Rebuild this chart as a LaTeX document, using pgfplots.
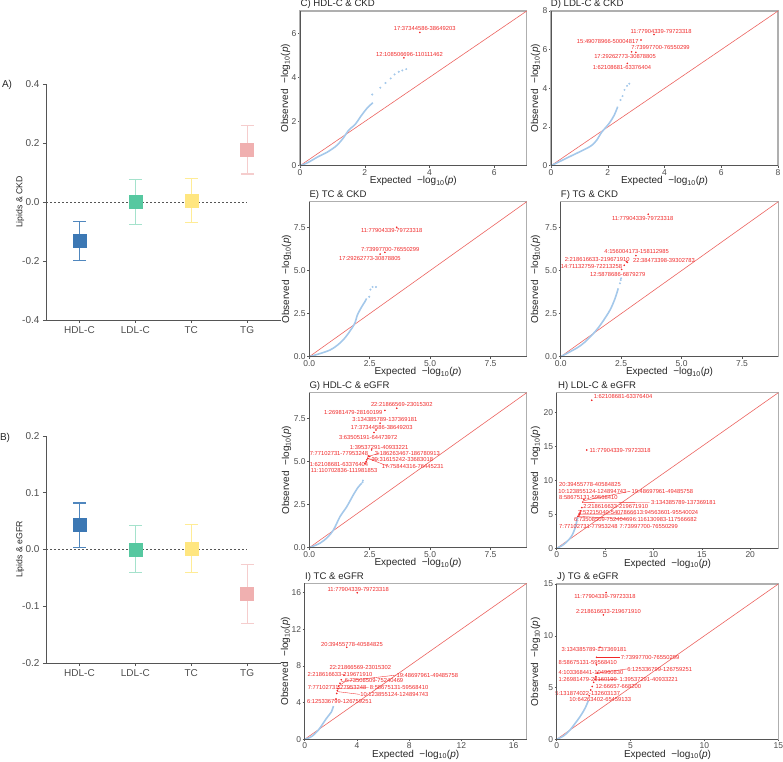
\documentclass[border=0pt]{standalone}
\usepackage{pgfplots}
\pgfplotsset{compat=1.18}
\usepackage{fontspec}
\setmainfont{Liberation Sans}
\definecolor{qqblue}{RGB}{164,200,234}
\definecolor{qqred}{RGB}{236,100,96}
\definecolor{lblred}{RGB}{240,40,40}
\definecolor{framegray}{RGB}{175,175,175}
\definecolor{axdark}{RGB}{85,85,85}
\definecolor{tickgray}{RGB}{77,77,77}
\definecolor{hdlfill}{RGB}{60,120,180}
\definecolor{hdlerr}{RGB}{80,135,190}
\definecolor{ldlfill}{RGB}{86,200,160}
\definecolor{ldlerr}{RGB}{165,226,204}
\definecolor{tcfill}{RGB}{255,230,128}
\definecolor{tcerr}{RGB}{255,236,150}
\definecolor{tgfill}{RGB}{240,176,176}
\definecolor{tgerr}{RGB}{245,205,205}
\tikzset{lbl/.style={text=lblred, font=\fontsize{5.8}{6.5}\selectfont, inner sep=0pt},
  seg/.style={lblred, line width=0.35pt}}
\pgfplotsset{
 qq/.style={scale only axis, anchor=south west, xmin=0, ymin=0,
   axis line style={draw=framegray, line width=1.3pt},
   tick align=outside, major tick length=2pt, tick style={axdark, line width=0.5pt},
   tick pos=left, ticklabel style={font=\fontsize{8.5}{9}\selectfont, text=tickgray, inner sep=1.5pt},
   clip=false},
 forest/.style={scale only axis, anchor=south west, width=234.6pt, xmin=0.4, xmax=4.6,
   axis x line=bottom, axis y line=left, axis line style={-, draw=axdark, line width=0.7pt},
   tick align=outside, major tick length=3pt, tick style={axdark, line width=0.6pt},
   xtick={1,2,3,4}, xticklabels={HDL-C,LDL-C,TC,TG},
   xticklabel style={font=\fontsize{10}{11}\selectfont, text=tickgray},
   yticklabel style={font=\fontsize{10}{11}\selectfont, text=tickgray}, clip=false},
 ebar/.style={color=#1, only marks, mark=none, forget plot, error bars/.cd, y dir=both, y explicit,
   error bar style={color=#1, line width=1.1pt}, error mark options={rotate=90, color=#1, line width=1.1pt, mark size=6.5pt}},
 sq/.style={only marks, mark=square*, mark size=6.5pt, mark options={fill=#1, draw=#1, line width=0.3pt}}
}
\newcommand{\frameLB}{\draw[axdark, line width=0.6pt] (rel axis cs:0,1) -- (rel axis cs:0,0) -- (rel axis cs:1,0);}
\newcommand{\xl}{Expected\ \ \textminus log\textsubscript{10}(\textit{p})}
\newcommand{\yl}{Observed\ \ \textminus log\textsubscript{10}(\textit{p})}
\begin{document}
\begin{tikzpicture}
\useasboundingbox (0pt,0pt) rectangle (783pt,761pt);

% ---------- A ----------
\begin{axis}[forest, at={(46pt,441pt)}, height=236pt, ymin=-0.4, ymax=0.4,
  ytick={-0.4,-0.2,0,0.2,0.4}, yticklabels={-0.4,-0.2,0.0,0.2,0.4}]
\addplot[axdark, dashed, dash pattern=on 2pt off 2pt, line width=0.6pt] coordinates {(0.4,0) (4,0)};
\addplot[ebar=hdlerr] coordinates {(1,-0.13) += (0,0.065) -= (0,0.068)};
\addplot[ebar=ldlerr] coordinates {(2,0.0) += (0,0.077) -= (0,0.077)};
\addplot[ebar=tcerr] coordinates {(3,0.004) += (0,0.076) -= (0,0.074)};
\addplot[ebar=tgerr] coordinates {(4,0.178) += (0,0.082) -= (0,0.083)};
\addplot[sq=hdlfill] coordinates {(1,-0.13)};
\addplot[sq=ldlfill] coordinates {(2,0.0)};
\addplot[sq=tcfill] coordinates {(3,0.004)};
\addplot[sq=tgfill] coordinates {(4,0.178)};
\end{axis}

% ---------- B ----------
\begin{axis}[forest, at={(46pt,98pt)}, height=227pt, ymin=-0.2, ymax=0.2,
  ytick={-0.2,-0.1,0,0.1,0.2}, yticklabels={-0.2,-0.1,0.0,0.1,0.2}]
\addplot[axdark, dashed, dash pattern=on 2pt off 2pt, line width=0.6pt] coordinates {(0.4,0) (4,0)};
\addplot[ebar=hdlerr] coordinates {(1,0.043) += (0,0.039) -= (0,0.0395)};
\addplot[ebar=ldlerr] coordinates {(2,0.0) += (0,0.042) -= (0,0.040)};
\addplot[ebar=tcerr] coordinates {(3,0.002) += (0,0.042) -= (0,0.042)};
\addplot[ebar=tgerr] coordinates {(4,-0.078) += (0,0.052) -= (0,0.052)};
\addplot[sq=hdlfill] coordinates {(1,0.043)};
\addplot[sq=ldlfill] coordinates {(2,0.0)};
\addplot[sq=tcfill] coordinates {(3,0.002)};
\addplot[sq=tgfill] coordinates {(4,-0.078)};
\end{axis}

% ---------- C ----------
\begin{axis}[qq, at={(300pt,595.3pt)}, width=226.7pt, height=154.7pt, xmax=7, ymax=7,
  xtick={0,2,4,6}, ytick={0,2,4,6}, xticklabels={0,2,4,6}, yticklabels={0,2,4,6}]
\addplot[qqred, line width=0.6pt] coordinates {(0,0) (7,7)};
\addplot[qqblue, line width=1.6pt, smooth] coordinates {(0,0) (0.24,0.14) (0.55,0.40) (0.85,0.62) (1.14,0.92) (1.35,1.28) (1.5,1.6) (1.71,1.88) (1.86,2.2) (2.07,2.6) (2.25,2.85)};
\addplot[only marks, mark=*, mark size=0.8pt, qqblue] coordinates {(2.23,3.22) (2.48,3.53) (2.64,3.74) (2.8,3.95) (2.92,4.13) (3.05,4.25) (3.16,4.31) (3.28,4.37)};
\addplot[only marks, mark=*, mark size=0.6pt, lblred] coordinates {(3.21,4.88) (3.70,6.03)};
\node[lbl] at (axis cs:3.85,6.2) {17:37344586-38649203};
\node[lbl] at (axis cs:3.38,5.03) {12:108506696-110111462};
\frameLB
\end{axis}

% ---------- D ----------
\begin{axis}[qq, at={(551pt,595.3pt)}, width=227pt, height=154.7pt, xmax=8, ymax=8,
  xtick={0,2,4,6,8}, ytick={0,2,4,6,8}, xticklabels={0,2,4,6,8}, yticklabels={0,2,4,6,8}]
\addplot[qqred, line width=0.6pt] coordinates {(0,0) (8,8)};
\addplot[qqblue, line width=1.6pt, smooth] coordinates {(0,0) (0.66,0.47) (1.36,0.98) (1.6,1.3) (1.78,1.72) (2.05,2.19) (2.23,2.62) (2.35,3.05)};
\addplot[only marks, mark=*, mark size=0.8pt, qqblue] coordinates {(2.45,3.4) (2.52,3.6) (2.59,3.92) (2.68,4.13) (2.76,4.24)};
\addplot[only marks, mark=*, mark size=0.6pt, lblred] coordinates {(2.69,5.29) (2.84,5.89) (2.99,5.86) (3.17,6.5) (3.63,6.79)};
\node[lbl] at (axis cs:3.88,6.93) {11:77904339-79723318};
\node[lbl] at (axis cs:2.0,6.43) {15:49078966-50004817};
\node[lbl] at (axis cs:3.86,6.1) {7:73997700-76550299};
\node[lbl] at (axis cs:2.61,5.67) {17:29262773-30878805};
\node[lbl] at (axis cs:2.5,5.09) {1:62108681-63376404};
\frameLB
\end{axis}

% ---------- E ----------
\begin{axis}[qq, at={(309.3pt,404.3pt)}, width=217.4pt, height=155pt, xmax=9, ymax=9,
  xtick={0,2.5,5,7.5}, ytick={0,2.5,5,7.5}, xticklabels={0.0,2.5,5.0,7.5}, yticklabels={0.0,2.5,5.0,7.5}]
\addplot[qqred, line width=0.6pt] coordinates {(0,0) (9,9)};
\addplot[qqblue, line width=1.6pt, smooth] coordinates {(0,0) (0.86,0.39) (1.4,0.97) (1.85,1.85) (1.99,2.42) (2.17,2.9) (2.3,3.19) (2.37,3.38)};
\addplot[only marks, mark=*, mark size=0.8pt, qqblue] coordinates {(2.48,3.48) (2.53,3.9) (2.62,4.05) (2.76,4.05)};
\addplot[only marks, mark=*, mark size=0.6pt, lblred] coordinates {(2.93,5.96) (3.13,6.06) (3.62,7.51)};
\node[lbl] at (axis cs:3.41,7.3) {11:77904339-79723318};
\node[lbl] at (axis cs:3.35,6.25) {7:73997700-76550299};
\node[lbl] at (axis cs:2.51,5.69) {17:29262773-30878805};
\frameLB
\end{axis}

% ---------- F ----------
\begin{axis}[qq, at={(560.7pt,404.3pt)}, width=217.6pt, height=155pt, xmax=9, ymax=9,
  xtick={0,2.5,5,7.5}, ytick={0,2.5,5,7.5}, xticklabels={0.0,2.5,5.0,7.5}, yticklabels={0.0,2.5,5.0,7.5}]
\addplot[qqred, line width=0.6pt] coordinates {(0,0) (9,9)};
\addplot[qqblue, line width=1.6pt, smooth] coordinates {(0,0) (0.66,0.5) (1.0,0.85) (1.42,1.45) (1.69,1.94) (2.04,2.71) (2.25,3.39) (2.38,3.97)};
\addplot[only marks, mark=*, mark size=0.8pt, qqblue] coordinates {(2.45,4.26) (2.48,4.45) (2.5,4.55)};
\addplot[only marks, mark=*, mark size=0.6pt, lblred] coordinates {(2.52,5.07) (2.63,5.31) (2.72,5.52) (2.76,5.48) (3.11,5.87) (3.62,8.27)};
\node[lbl] at (axis cs:3.39,8.0) {11:77904339-79723318};
\node[lbl] at (axis cs:3.14,6.1) {4:156004173-158112985};
\node[lbl] at (axis cs:1.51,5.67) {2:218616633-219671910};
\node[lbl] at (axis cs:4.27,5.58) {22:38473398-39302783};
\node[lbl] at (axis cs:1.27,5.23) {14:71132759-72213258};
\node[lbl] at (axis cs:2.36,4.78) {12:5878686-6879279};
\frameLB
\end{axis}

% ---------- G ----------
\begin{axis}[qq, at={(309.3pt,213.3pt)}, width=217.4pt, height=155pt, xmax=9, ymax=9,
  xtick={0,2.5,5,7.5}, ytick={0,2.5,5,7.5}, xticklabels={0.0,2.5,5.0,7.5}, yticklabels={0.0,2.5,5.0,7.5}]
\addplot[qqred, line width=0.6pt] coordinates {(0,0) (9,9)};
\addplot[qqblue, line width=1.6pt, smooth] coordinates {(0,0) (0.44,0.26) (0.75,0.6) (1.0,1.03) (1.27,1.8) (1.55,2.38) (1.82,3.06) (1.99,3.45) (2.1,3.64) (2.17,3.73)};
\addplot[only marks, mark=*, mark size=0.8pt, qqblue] coordinates {(2.2,3.8) (2.22,3.9)};
\addplot[only marks, mark=*, mark size=0.6pt, lblred] coordinates {(2.3,4.9) (2.35,5.0) (2.38,5.1) (2.42,5.2) (2.44,5.33) (2.5,5.3) (2.58,5.68) (2.68,6.69) (2.76,6.84) (2.93,7.23) (3.13,7.97) (3.62,8.1)};
\draw[seg] (axis cs:2.44,5.3) -- (axis cs:2.9,5.49);
\draw[seg] (axis cs:2.4,5.15) -- (axis cs:2.85,5.14);
\draw[seg] (axis cs:2.4,5.2) -- (axis cs:3.3,4.71);
\draw[seg] (axis cs:2.35,5.0) -- (axis cs:2.3,4.85);
\node[lbl] at (axis cs:3.83,8.34) {22:21866569-23015302};
\node[lbl] at (axis cs:1.82,7.85) {1:26981479-28160199};
\node[lbl] at (axis cs:3.13,7.42) {3:134385789-137369181};
\node[lbl] at (axis cs:3.0,7.0) {17:37344586-38649203};
\node[lbl] at (axis cs:2.44,6.42) {3:63505191-64473972};
\node[lbl] at (axis cs:2.89,5.84) {1:39537291-40933221};
\node[lbl] at (axis cs:1.23,5.49) {7:77102731-77953248};
\node[lbl] at (axis cs:4.06,5.49) {3:186263467-186780913};
\node[lbl] at (axis cs:3.85,5.14) {20:31615242-33683018};
\node[lbl] at (axis cs:1.23,4.85) {1:62108681-63376404};
\node[lbl] at (axis cs:4.28,4.71) {17:75844316-76445231};
\node[lbl] at (axis cs:1.44,4.46) {11:110702836-111981853};
\frameLB
\end{axis}

% ---------- H ----------
\begin{axis}[qq, at={(556.7pt,212.7pt)}, width=221.6pt, height=155.6pt, xmax=22.9, ymax=22.9,
  xtick={0,5,10,15,20}, ytick={0,5,10,15,20}, xticklabels={0,5,10,15,20}, yticklabels={0,5,10,15,20}]
\addplot[qqred, line width=0.6pt] coordinates {(0,0) (22.9,22.9)};
\addplot[qqblue, line width=1.6pt, smooth] coordinates {(0,0) (0.5,0.35) (1.0,0.9) (1.5,1.7) (1.8,2.6) (2.0,3.5) (2.1,4.2) (2.15,4.6)};
\addplot[only marks, mark=*, mark size=0.6pt, lblred] coordinates {(2.2,4.7) (2.3,4.9) (2.35,5.0) (2.4,5.2) (2.5,5.5) (2.6,6.0) (2.7,6.8) (2.8,7.2) (3.1,14.47) (3.62,21.8)};
\draw[seg] (axis cs:2.8,6.72) -- (axis cs:9.6,6.78);
\draw[seg] (axis cs:2.35,5.0) -- (axis cs:8.2,5.05);
\draw[seg] (axis cs:2.3,4.7) -- (axis cs:7.5,4.3);
\draw[seg] (axis cs:2.75,7.0) -- (axis cs:7.6,8.4);
\node[lbl] at (axis cs:6.86,22.27) {1:62108681-63376404};
\node[lbl] at (axis cs:6.55,14.37) {11:77904339-79723318};
\node[lbl] at (axis cs:3.44,9.4) {20:39455778-40584825};
\node[lbl] at (axis cs:3.69,8.42) {10:123855124-124894743};
\node[lbl] at (axis cs:10.92,8.42) {19:48697961-49485758};
\node[lbl] at (axis cs:3.27,7.45) {8:58675131-59568410};
\node[lbl] at (axis cs:13.1,6.67) {3:134385789-137369181};
\node[lbl] at (axis cs:6.1,6.18) {2:218616633-219671910};
\node[lbl] at (axis cs:5.24,5.2) {3:52215040-54078666};
\node[lbl] at (axis cs:11.44,5.2) {13:94563601-95540024};
\node[lbl] at (axis cs:4.82,4.23) {6:73508509-75240469};
\node[lbl] at (axis cs:11.17,4.23) {6:116130983-117566682};
\node[lbl] at (axis cs:3.27,3.26) {7:77102731-77953248};
\node[lbl] at (axis cs:9.51,3.26) {7:73997700-76550299};
\frameLB
\end{axis}

% ---------- I ----------
\begin{axis}[qq, at={(304.7pt,21.7pt)}, width=222pt, height=156pt, xmax=17, ymax=17,
  xtick={0,4,8,12,16}, ytick={0,4,8,12,16}, xticklabels={0,4,8,12,16}, yticklabels={0,4,8,12,16}]
\addplot[qqred, line width=0.6pt] coordinates {(0,0) (17,17)};
\addplot[qqblue, line width=1.6pt, smooth] coordinates {(0,0) (0.51,0.29) (1.05,1.01) (1.67,2.29) (2.05,3.0) (2.2,3.63)};
\addplot[only marks, mark=*, mark size=0.6pt, lblred] coordinates {(2.4,4.4) (2.45,5.0) (2.5,5.3) (2.55,5.5) (2.6,5.8) (2.7,6.1) (2.8,6.5) (3.0,7.0) (3.22,10.02) (4.03,15.97)};
\draw[seg] (axis cs:2.8,6.3) -- (axis cs:7.0,7.0);
\draw[seg] (axis cs:2.6,5.55) -- (axis cs:4.9,5.62);
\draw[seg] (axis cs:2.5,5.2) -- (axis cs:4.2,4.9);
\draw[seg] (axis cs:2.6,5.8) -- (axis cs:3.1,6.3);
\node[lbl] at (axis cs:4.1,16.34) {11:77904339-79723318};
\node[lbl] at (axis cs:3.62,10.38) {20:39455778-40584825};
\node[lbl] at (axis cs:4.26,7.84) {22:21866569-23015302};
\node[lbl] at (axis cs:2.7,7.11) {2:218616633-219671910};
\node[lbl] at (axis cs:9.39,7.0) {19:48697961-49485758};
\node[lbl] at (axis cs:5.31,6.38) {6:73508509-75240469};
\node[lbl] at (axis cs:2.48,5.62) {7:77102731-77953248};
\node[lbl] at (axis cs:7.23,5.62) {8:58675131-59568410};
\node[lbl] at (axis cs:6.87,4.9) {10:123855124-124894743};
\node[lbl] at (axis cs:2.66,4.17) {6:125336799-126759251};
\frameLB
\end{axis}

% ---------- J ----------
\begin{axis}[qq, at={(556.7pt,21.7pt)}, width=221.6pt, height=155.3pt, xmax=15, ymax=15,
  xtick={0,5,10,15}, ytick={0,5,10,15}, xticklabels={0,5,10,15}, yticklabels={0,5,10,15}]
\addplot[qqred, line width=0.6pt] coordinates {(0,0) (15,15)};
\addplot[qqblue, line width=1.6pt, smooth] coordinates {(0,0) (0.45,0.32) (0.9,0.9) (1.58,2.19) (1.92,3.0) (2.14,3.73)};
\addplot[only marks, mark=*, mark size=0.6pt, lblred] coordinates {(2.2,4.2) (2.3,4.76) (2.4,5.1) (2.5,5.5) (2.6,5.8) (2.65,6.05) (2.75,6.4) (2.7,7.2) (2.7,7.92) (2.93,8.89) (3.16,12.01) (3.34,14.17)};
\draw[seg] (axis cs:2.7,7.92) -- (axis cs:4.29,7.92);
\draw[seg] (axis cs:2.75,6.4) -- (axis cs:4.74,6.79);
\draw[seg] (axis cs:2.6,5.8) -- (axis cs:4.17,5.75);
\node[lbl] at (axis cs:3.27,13.78) {11:77904339-79723318};
\node[lbl] at (axis cs:3.5,12.33) {2:218616633-219671910};
\node[lbl] at (axis cs:2.53,8.63) {3:134385789-137369181};
\node[lbl] at (axis cs:6.32,7.92) {7:73997700-76550299};
\node[lbl] at (axis cs:2.1,7.44) {8:58675131-59568410};
\node[lbl] at (axis cs:6.97,6.79) {6:125336799-126759251};
\node[lbl] at (axis cs:2.32,6.43) {4:103368441-104960830};
\node[lbl] at (axis cs:2.1,5.73) {1:26981479-28160199};
\node[lbl] at (axis cs:6.23,5.73) {1:39537291-40933221};
\node[lbl] at (axis cs:4.17,5.08) {12:66657-668200};
\node[lbl] at (axis cs:2.1,4.44) {5:131874022-132603137};
\node[lbl] at (axis cs:2.95,3.8) {10:64263402-65459133};
\frameLB
\end{axis}

% ---------- texts ----------
\tikzset{ttl/.style={anchor=west, inner sep=0pt, font=\fontsize{9.6}{11}\selectfont, text=black!85},
  axl/.style={inner sep=0pt, font=\fontsize{10}{11}\selectfont, text=black!85}}
\node[ttl] at (300.5pt,756.5pt) {C) HDL-C \& CKD};
\node[ttl] at (550.7pt,756.5pt) {D) LDL-C \& CKD};
\node[ttl] at (309.3pt,566pt) {E) TC \& CKD};
\node[ttl] at (560.7pt,566pt) {F) TG \& CKD};
\node[ttl] at (309.3pt,375.3pt) {G) HDL-C \& eGFR};
\node[ttl] at (558pt,375.3pt) {H) LDL-C \& eGFR};
\node[ttl] at (305pt,184.3pt) {I) TC \& eGFR};
\node[ttl] at (557pt,184.3pt) {J) TG \& eGFR};
\node[axl] at (413.3pt,580pt) {\xl};
\node[axl] at (664.5pt,580pt) {\xl};
\node[axl] at (418pt,389pt) {\xl};
\node[axl] at (669.5pt,389pt) {\xl};
\node[axl] at (418pt,198pt) {\xl};
\node[axl] at (667.5pt,197.2pt) {\xl};
\node[axl] at (415.7pt,6.5pt) {\xl};
\node[axl] at (667.5pt,6.5pt) {\xl};
\node[axl, rotate=90] at (285.5pt,672.6pt) {\yl};
\node[axl, rotate=90] at (535.5pt,672.6pt) {\yl};
\node[axl, rotate=90] at (286.5pt,481.8pt) {\yl};
\node[axl, rotate=90] at (535.5pt,481.8pt) {\yl};
\node[axl, rotate=90] at (286.5pt,290.8pt) {\yl};
\node[axl, rotate=90] at (535.5pt,290.5pt) {\yl};
\node[axl, rotate=90] at (285.5pt,99.7pt) {\yl};
\node[axl, rotate=90] at (535.5pt,99.3pt) {\yl};
\node[font=\fontsize{10}{11}\selectfont, text=black!85, inner sep=0pt] at (7pt,676pt) {A)};
\node[font=\fontsize{10}{11}\selectfont, text=black!85, inner sep=0pt] at (5pt,323pt) {B)};
\node[font=\fontsize{8.7}{10}\selectfont, text=black!85, rotate=90, inner sep=0pt] at (20pt,559pt) {Lipids \& CKD};
\node[font=\fontsize{8.7}{10}\selectfont, text=black!85, rotate=90, inner sep=0pt] at (20pt,211.5pt) {Lipids \& eGFR};
\end{tikzpicture}
\end{document}
